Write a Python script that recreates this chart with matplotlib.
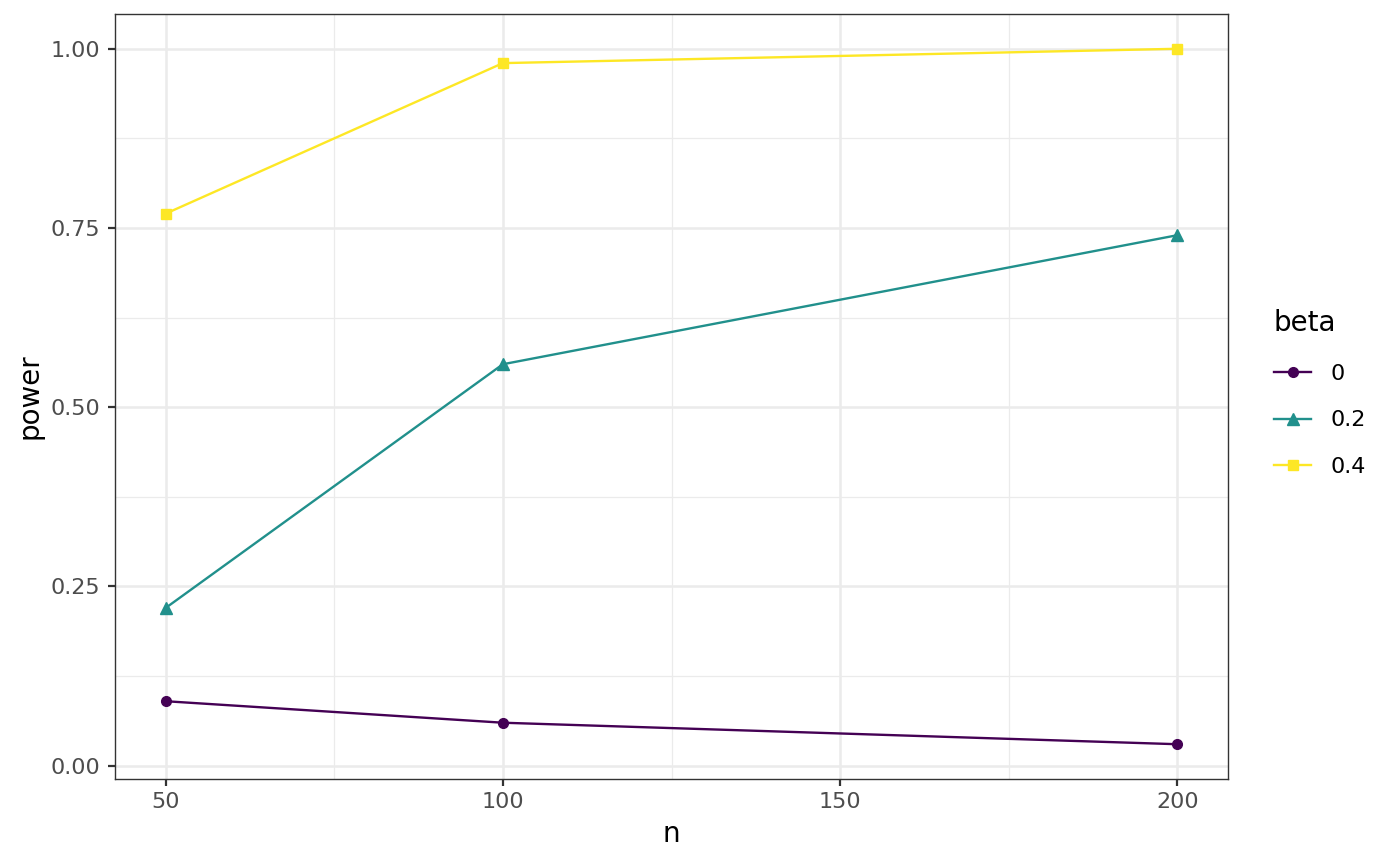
import matplotlib
matplotlib.use("Agg")
import matplotlib.pyplot as plt
from matplotlib.ticker import FixedLocator

n_values = [50, 100, 200]
beta_labels = ["0", "0.2", "0.4"]
power_beta0 = [0.09, 0.06, 0.03]
power_beta02 = [0.22, 0.56, 0.74]
power_beta04 = [0.77, 0.98, 1.00]
colors = ["#440154", "#21908C", "#FDE725"]
markers = ["o", "^", "s"]
x_ticks = [50, 100, 150, 200]
y_ticks = [0.0, 0.25, 0.5, 0.75, 1.0]
y_tick_labels = ["0.00", "0.25", "0.50", "0.75", "1.00"]

plt.rcParams['font.family'] = ['DejaVu Sans']
fig = plt.figure(figsize=(14, 8.65), dpi=100)
ax = fig.add_axes([115/1400, 1-779/865, (1228-115)/1400, (779-14)/865])

series = [power_beta0, power_beta02, power_beta04]
msizes = [7, 8, 6.8]
for lab, ys, c, m, ms in zip(beta_labels, series, colors, markers, msizes):
    ax.plot(n_values, ys, color=c, marker=m, markersize=ms,
            linewidth=1.7, label=lab)

xr = max(n_values) - min(n_values)
ax.set_xlim(min(n_values) - 0.05*xr, max(n_values) + 0.05*xr)
allv = power_beta0 + power_beta02 + power_beta04
yr = max(allv) - min(allv)
ax.set_ylim(min(allv) - 0.05*yr, max(allv) + 0.05*yr)

ax.set_xticks(x_ticks)
ax.set_yticks(y_ticks)
ax.set_yticklabels(y_tick_labels)
ax.xaxis.set_minor_locator(FixedLocator([75, 125, 175]))
ax.yaxis.set_minor_locator(FixedLocator([0.125, 0.375, 0.625, 0.875]))
ax.grid(which="major", color="#EBEBEB", linewidth=1.8)
ax.grid(which="minor", color="#EBEBEB", linewidth=0.9)
ax.set_axisbelow(True)
ax.tick_params(which="major", length=5, width=1.6, color="#333333",
               labelsize=16, labelcolor="#4D4D4D")
ax.tick_params(axis="x", which="major", pad=4)
ax.tick_params(axis="y", which="major", pad=5.5)
ax.tick_params(which="minor", length=0)
for s in ax.spines.values():
    s.set_color("#333333")
    s.set_linewidth(1.0)

ax.set_xlabel("n", fontsize=20, labelpad=6)
ax.set_ylabel("power", fontsize=20, labelpad=5.5)

leg = fig.legend(title="beta", loc="center left",
                 bbox_to_anchor=(1274/1400, 1-393/865),
                 bbox_transform=fig.transFigure,
                 frameon=False, fontsize=16, title_fontsize=20,
                 handlelength=1.67, handletextpad=0.85,
                 labelspacing=1.2, borderpad=0, borderaxespad=0)
leg._legend_box.align = "left"

fig.savefig("out.png", dpi=100)
